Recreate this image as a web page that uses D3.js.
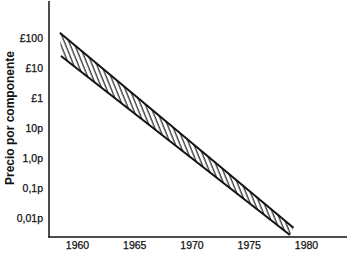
<!DOCTYPE html>
<html><head><meta charset="utf-8">
<script src="https://cdn.jsdelivr.net/npm/d3@7"></script>
<style>body{margin:0;background:#fff}svg{display:block}</style>
</head><body>
<script>
// Data (price per component, in pence)
const tickValues = [10000, 1000, 100, 10, 1, 0.1, 0.01];
const tickLabels = ["£100", "£10", "£1", "10p", "1,0p", "0,1p", "0,01p"];
const xTicks = [1960, 1965, 1970, 1975, 1980];
const upperYears = [1958.5, 1978.9];
const upperPrice = [15000, 0.0047];
const lowerYears = [1958.6, 1978.6];
const lowerPrice = [2500, 0.0027];

const W = 350, H = 255;
const svg = d3.select("body").append("svg").attr("width", W).attr("height", H);
const x = d3.scaleLinear().domain([1960, 1980]).range([77, 306]);
const y = d3.scaleLog().domain([0.01, 10000]).range([218, 38]);

const defs = svg.append("defs");
const pat = defs.append("pattern").attr("id", "hatch")
  .attr("patternUnits", "userSpaceOnUse").attr("width", 4.3).attr("height", 8)
  .attr("patternTransform", "rotate(-22)");
pat.append("line").attr("x1", 1).attr("y1", -1).attr("x2", 1).attr("y2", 9)
  .attr("stroke", "#111").attr("stroke-width", 1.1);

const upper = upperYears.map((d, i) => [x(d), y(upperPrice[i])]);
const lower = lowerYears.map((d, i) => [x(d), y(lowerPrice[i])]);
svg.append("path").attr("d", d3.line()(upper.concat(lower.slice().reverse())) + "Z")
  .attr("fill", "url(#hatch)").attr("stroke", "none");
svg.append("path").attr("d", d3.line()(upper)).attr("stroke", "#111").attr("stroke-width", 2).attr("fill", "none");
svg.append("path").attr("d", d3.line()(lower)).attr("stroke", "#111").attr("stroke-width", 2).attr("fill", "none");

// axes
const yAxis = d3.axisLeft(y).tickValues(tickValues).tickSize(0).tickPadding(6)
  .tickFormat((d, i) => tickLabels[i]);
const gy = svg.append("g").attr("transform", "translate(49,0)").call(yAxis);
gy.select(".domain").remove();
gy.selectAll("text").attr("font-family", "Liberation Sans, Arial, sans-serif").attr("font-size", 10.5).attr("fill", "#111")
  .attr("stroke", "#111").attr("stroke-width", 0.25);
svg.append("line").attr("x1", 49).attr("x2", 49).attr("y1", 1).attr("y2", 237.5).attr("stroke", "#111").attr("stroke-width", 1.5);

const xAxis = d3.axisBottom(x).tickValues(xTicks).tickSize(0).tickPadding(5).tickFormat(d3.format("d"));
const gx = svg.append("g").attr("transform", "translate(0,237)").call(xAxis);
gx.select(".domain").remove();
gx.selectAll("text").attr("font-family", "Liberation Sans, Arial, sans-serif").attr("font-size", 10.5).attr("fill", "#111")
  .attr("stroke", "#111").attr("stroke-width", 0.25);
svg.append("line").attr("x1", 48.3).attr("x2", 347).attr("y1", 237).attr("y2", 237).attr("stroke", "#111").attr("stroke-width", 1.5);

svg.append("text").attr("transform", "translate(14,118) rotate(-90)")
  .attr("text-anchor", "middle").attr("font-family", "Liberation Sans, Arial, sans-serif")
  .attr("font-size", 12).attr("font-weight", "bold").attr("fill", "#111")
  .text("Precio por componente");
</script>
</body></html>
